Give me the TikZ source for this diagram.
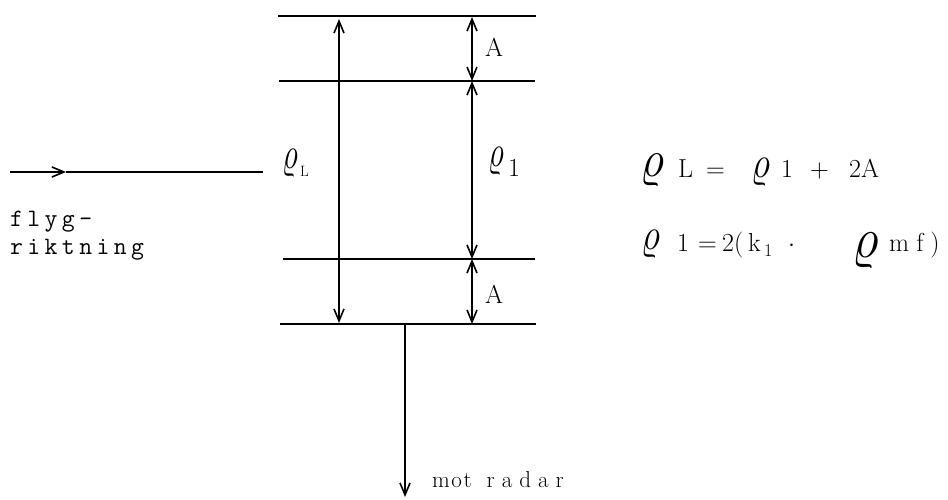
\documentclass[tikz,border=0pt]{standalone}
\usepackage{fontspec}
\usepackage{graphicx}
\usetikzlibrary{arrows.meta}
\makeatletter
\def\lsp#1#2{\def\lsp@k{#1}\lsp@loop#2\relax}
\def\lsp@loop#1{\ifx#1\relax\else#1\kern\lsp@k\expandafter\lsp@loop\fi}
\makeatother
\newcommand\rh[2]{\scalebox{#1}[#2]{$\varrho$}}
\begin{document}
\begin{tikzpicture}[x=1pt,y=-1pt,
  rule/.style={line width=2.2pt},
  dim/.style={line width=1.6pt,{Straight Barb[length=12pt,width=10pt,line width=1.6pt]}-{Straight Barb[length=12pt,width=10pt,line width=1.6pt]}},
  onearrow/.style={line width=1.6pt,-{Straight Barb[length=12pt,width=10pt,line width=1.6pt]}},
  txt/.style={inner sep=0pt,anchor=base west,font=\fontsize{26}{30}\selectfont},
  tw/.style={inner sep=0pt,anchor=base west,font=\fontsize{25}{30}\selectfont\ttfamily},
  rho/.style={inner sep=0pt,anchor=base west,font=\fontsize{24.88}{28}\selectfont},
]
\useasboundingbox (0,0) rectangle (948,500);

% horizontal levels
\coordinate (t0) at (278,16);  \coordinate (t1) at (536,16);
\coordinate (u0) at (279,81);  \coordinate (u1) at (535,81);
\coordinate (v0) at (283,259); \coordinate (v1) at (535,259);
\coordinate (w0) at (280,324); \coordinate (w1) at (536,324);
\draw[rule] (t0) -- (t1);
\draw[rule] (u0) -- (u1);
\draw[rule] (v0) -- (v1);
\draw[rule] (w0) -- (w1);

% dimension arrows
\coordinate (L0) at (339,19);  \coordinate (L1) at (339,323);
\draw[dim] (L0) -- (L1);
\coordinate (r0) at (472,17);  \coordinate (r1) at (472,81);
\coordinate (r2) at (472,259); \coordinate (r3) at (472,324);
\draw[dim] (r0) -- (r1);
\draw[dim] (r1) -- (r2);
\draw[dim] (r2) -- (r3);

% labels in the drawing
\node[txt] (Atop) at (485,57) {A};
\node[txt] (Abot) at (485,303) {A};
\node[rho] (rhoL) at (282,168) {\rh{1.25}{1.8}};
\node[txt,font=\fontsize{15}{16}\selectfont] (subL) at (300,177) {L};
\node[rho] (rho1) at (488,167) {\rh{1.25}{1.8}};
\node[txt] (sub1) at (508,177) {1};

% flight direction
\coordinate (f0) at (10,172); \coordinate (fm) at (66,172); \coordinate (f1) at (263,172);
\draw[onearrow] (f0) -- (fm);
\draw[line width=1.6pt] (fm) -- (f1);
\node[tw] (flyg) at (10,226) {\lsp{4.4pt}{flyg-}};
\node[tw] (rikt) at (10,254) {\lsp{4.4pt}{riktning}};

% towards radar
\coordinate (d0) at (405,325); \coordinate (d1) at (405,497);
\draw[onearrow] (d0) -- (d1);
\node[txt,font=\fontsize{23}{26}\selectfont] (mot) at (432,487) {\lsp{1.5pt}{mo}t\hspace{15pt}\lsp{7pt}{rada}r};

% formula 1
\node[rho] (fa1) at (640,177) {\rh{1.9}{2.1}};
\node[txt] (fa2) at (678,178) {L};
\node[txt] (fa3) at (706,178) {=};
\node[rho] (fa4) at (751,178) {\rh{1.5}{1.8}};
\node[txt] (fa5) at (781,178) {1};
\node[txt] (fa6) at (810,178) {+};
\node[txt] (fa7) at (849,178) {2A};

% formula 2
\node[rho] (fb1) at (641,249) {\rh{1.5}{1.8}};
\node[txt] (fb2) at (677,251) {1};
\node[txt] (fb3) at (698,251) {=};
\node[txt] (fb4) at (722,251) {2(};
\node[txt] (fb5) at (748,251) {k};
\node[txt,font=\fontsize{18}{20}\selectfont] (fb6) at (764,256) {1};
\node[txt] (fb7) at (788,251) {$\cdot$};
\node[rho] (fb8) at (852,257) {\rh{2.1}{2.3}};
\node[txt] (fb9) at (889,251) {m\kern7pt f\kern7pt )};
\end{tikzpicture}
\end{document}
